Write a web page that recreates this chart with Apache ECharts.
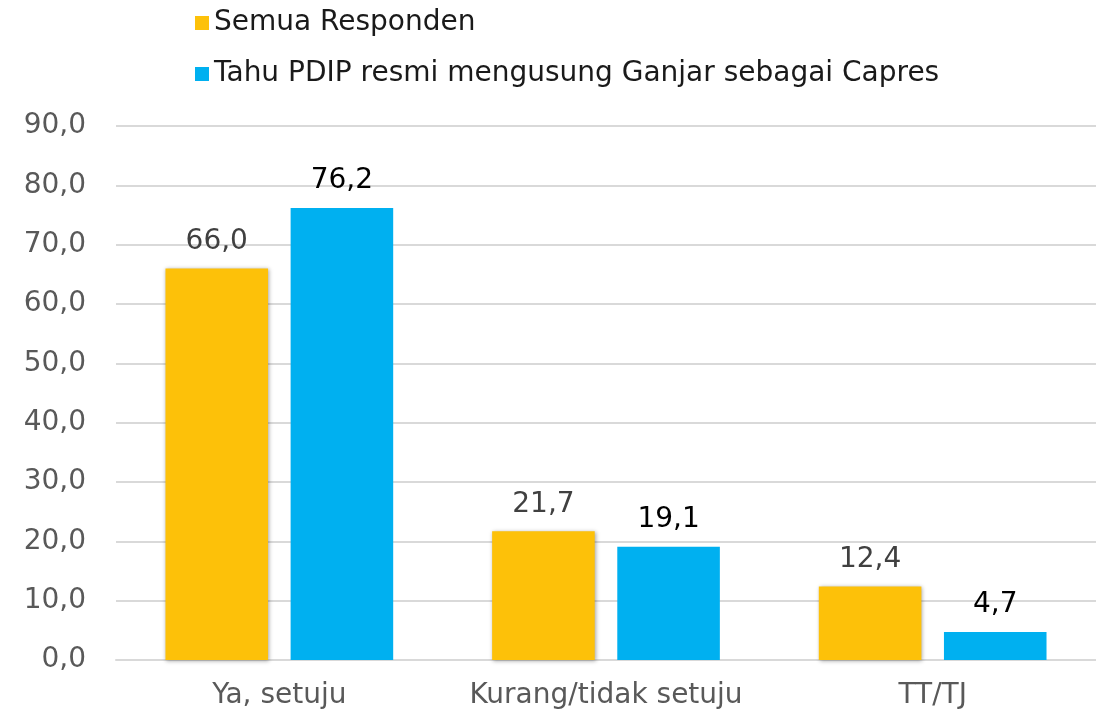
<!DOCTYPE html>
<html>
<head>
<meta charset="utf-8">
<script src="https://cdn.jsdelivr.net/npm/echarts@6/dist/echarts.min.js"></script>
<style>
  html, body { margin: 0; padding: 0; background: #fff; }
  #chart { width: 1096px; height: 718px; }
</style>
</head>
<body>
<div id="chart"></div>
<script>
// data
var categories = ['Ya, setuju', 'Kurang/tidak setuju', 'TT/TJ'];
var semuaResponden = [66.0, 21.7, 12.4];
var tahuPdip = [76.2, 19.1, 4.7];
var seriesNames = ['Semua Responden', 'Tahu PDIP resmi mengusung Ganjar sebagai Capres'];

var FONT = 'DejaVu Sans';

function fmt(v) {
    return Number(v).toFixed(1).replace('.', ',');
}

var chart = echarts.init(document.getElementById('chart'));

var option = {
    animation: false,
    textStyle: { fontFamily: FONT },
    legend: {
        orient: 'vertical',
        left: 190,
        top: 4,
        itemWidth: 14,
        itemHeight: 14,
        itemGap: 23,
        icon: 'rect',
        textStyle: { fontSize: 28, color: '#1a1a1a', fontFamily: FONT },
        data: seriesNames
    },
    grid: {
        left: 116,
        top: 126,
        width: 988,
        height: 534
    },
    xAxis: {
        type: 'category',
        data: categories,
        axisLine: { lineStyle: { color: '#d9d9d9', width: 2 } },
        axisTick: { show: false },
        axisLabel: { interval: 0, fontSize: 28, color: '#595959', margin: 22, fontFamily: FONT }
    },
    yAxis: {
        type: 'value',
        min: 0,
        max: 90,
        interval: 10,
        axisLine: { show: false },
        axisTick: { show: false },
        splitLine: { lineStyle: { color: '#d9d9d9', width: 2 } },
        axisLabel: {
            fontSize: 28,
            color: '#595959',
            margin: 30,
            fontFamily: FONT,
            formatter: fmt
        }
    },
    series: [{
        name: seriesNames[0],
        type: 'bar',
        data: semuaResponden,
        barWidth: '31.4%',
        barGap: '22%',
        itemStyle: {
            color: '#FDC109',
            shadowBlur: 4,
            shadowColor: 'rgba(0,0,0,0.35)',
            shadowOffsetX: 1,
            shadowOffsetY: 1
        },
        label: {
            show: true,
            position: 'top',
            distance: 13,
            fontSize: 28,
            color: '#404040',
            fontFamily: FONT,
            formatter: function (p) { return fmt(p.value); }
        }
    }, {
        name: seriesNames[1],
        type: 'bar',
        data: tahuPdip,
        barWidth: '31.4%',
        itemStyle: { color: '#00B0F0' },
        label: {
            show: true,
            position: 'top',
            distance: 13,
            fontSize: 28,
            color: '#000',
            fontFamily: FONT,
            formatter: function (p) { return fmt(p.value); }
        }
    }]
};

chart.setOption(option);
</script>
</body>
</html>
